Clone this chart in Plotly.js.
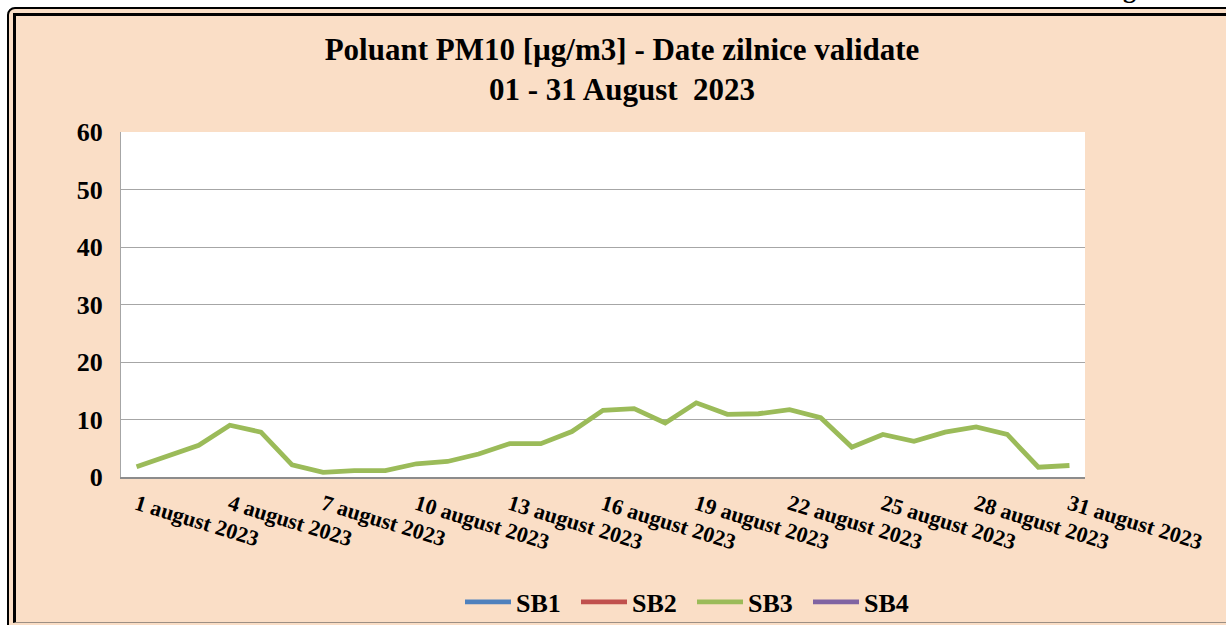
<!DOCTYPE html>
<html>
<head>
<meta charset="utf-8">
<script src="https://cdn.plot.ly/plotly-3.0.1.min.js"></script>
<style>
  html, body { margin: 0; padding: 0; background: #ffffff; overflow: hidden; width: 1226px; height: 625px; }
  #frame1 { position: absolute; left: 7px; top: 7px; width: 1300px; height: 700px; border: 2px solid #000; border-radius: 8px; background: #FADEC6; box-sizing: border-box; }
  #frame2 { position: absolute; left: 13px; top: 13px; width: 1300px; height: 610px; border-left: 3px solid #000; border-top: 3px solid #000; border-bottom: 1px solid #9c8f84; background: #FADEC6; box-sizing: border-box; }
  #chart { position: absolute; left: 0; top: 0; width: 1226px; height: 625px; z-index: 2; }
</style>
</head>
<body>
<div id="frame1"></div>
<div id="frame2"></div>
<div id="chart"></div>
<script>
// ---- data ----
const days = [];
for (let d = 1; d <= 31; d++) days.push(d + " august 2023");
const tickDays = ["1 august 2023","4 august 2023","7 august 2023","10 august 2023","13 august 2023","16 august 2023","19 august 2023","22 august 2023","25 august 2023","28 august 2023","31 august 2023"];
const seriesNames = ["SB1", "SB2", "SB3", "SB4"];
const seriesColors = ["#4F81BD", "#C0504D", "#9BBB59", "#8064A2"];
const sb1 = new Array(31).fill(null);
const sb2 = new Array(31).fill(null);
const sb3 = [1.8, 3.6, 5.5, 9.0, 7.8, 2.1, 0.8, 1.1, 1.1, 2.3, 2.7, 4.0, 5.8, 5.8, 7.9, 11.6, 11.9, 9.4, 12.9, 10.9, 11.0, 11.7, 10.3, 5.2, 7.4, 6.2, 7.8, 8.7, 7.4, 1.7, 2.0];
const sb4 = new Array(31).fill(null);
const seriesValues = [sb1, sb2, sb3, sb4];
const titleText = "Poluant PM10 [µg/m3] - Date zilnice validate<br>01 - 31 August  2023";

const FONT = "'Liberation Serif', 'Times New Roman', Times, serif";

const traces = seriesNames.map((n, i) => ({
  type: "scatter",
  mode: "lines",
  name: n,
  x: days,
  y: seriesValues[i],
  line: { color: seriesColors[i], width: 4.8 },
  connectgaps: false,
  hoverinfo: "x+y+name"
}));

const layout = {
  width: 1226,
  height: 625,
  margin: { l: 121, r: 141, t: 132, b: 148, autoexpand: false },
  paper_bgcolor: "rgba(0,0,0,0)",
  plot_bgcolor: "#ffffff",
  font: { family: FONT, color: "#000", weight: "bold" },
  title: {
    text: titleText,
    font: { family: FONT, size: 31, color: "#000", weight: "bold" },
    xref: "container", x: 622 / 1226, xanchor: "center",
    yref: "container", y: 1 - 60 / 625, yanchor: "top"
  },
  xaxis: {
    type: "category",
    categoryorder: "array",
    categoryarray: days,
    range: [-0.5, 30.5],
    tickmode: "array",
    tickvals: tickDays,
    ticktext: tickDays,
    tickangle: 17,
    tickfont: { family: FONT, size: 22, color: "#000", weight: "bold" },
    ticks: "",
    ticklabelstandoff: 4,
    showgrid: false,
    showline: true,
    linecolor: "#8c8c8c",
    linewidth: 2,
    zeroline: false,
    fixedrange: true
  },
  yaxis: {
    range: [0, 60],
    tickmode: "linear",
    tick0: 0,
    dtick: 10,
    tickfont: { family: FONT, size: 26, color: "#000", weight: "bold" },
    ticks: "",
    ticklabelstandoff: 12,
    showgrid: true,
    gridcolor: "#a6a6a6",
    gridwidth: 1,
    showline: true,
    linecolor: "#a6a6a6",
    linewidth: 1,
    zeroline: false,
    fixedrange: true
  },
  showlegend: true,
  legend: {
    orientation: "h",
    x: (460 - 121) / 964, xanchor: "left",
    y: (477 - 602) / 345, yanchor: "middle",
    font: { family: FONT, size: 26, color: "#000", weight: "bold" },
    bgcolor: "rgba(0,0,0,0)",
    itemwidth: 46,
    entrywidth: 55,
    entrywidthmode: "pixels",
    traceorder: "normal"
  },
  annotations: [{
    text: "g",
    xref: "paper", yref: "paper",
    x: (1129 - 121) / 964, y: (477 - 6) / 345,
    xanchor: "center", yanchor: "bottom",
    showarrow: false,
    font: { family: FONT, size: 26, color: "#000", weight: "bold" }
  }]
};

Plotly.newPlot("chart", traces, layout, { displayModeBar: false, staticPlot: true });
</script>
</body>
</html>
